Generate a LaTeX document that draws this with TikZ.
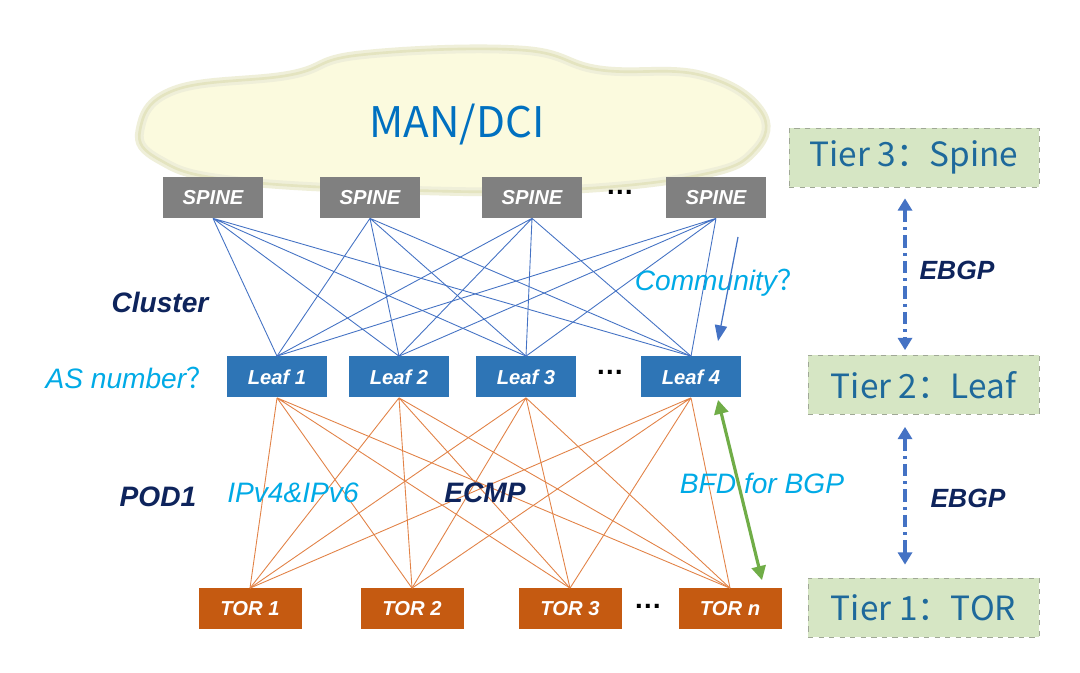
\documentclass[tikz,border=0pt]{standalone}
\usepackage{fontspec}
\setmainfont{Liberation Sans}
\newfontfamily\cjk{Noto Sans CJK SC}
\usepackage{tikz}
\usetikzlibrary{
  arrows.meta,
  positioning,
  calc
}
\usepackage{xcolor}
\definecolor{spinegray}{RGB}{128,128,128}
\definecolor{leafblue}{RGB}{46,117,182}
\definecolor{torbrown}{RGB}{197,90,17}
\definecolor{linkblue}{RGB}{68,114,196}
\definecolor{linkorange}{RGB}{226,130,70}
\definecolor{tiergreen}{RGB}{214,230,196}
\definecolor{tierborder}{RGB}{160,168,150}
\definecolor{tierblue}{RGB}{30,105,155}
\definecolor{notecyan}{RGB}{0,170,230}
\definecolor{navy}{RGB}{14,36,92}
\definecolor{cloudcream}{RGB}{251,250,222}
\definecolor{cloudedge}{RGB}{228,228,192}
\definecolor{bfdgreen}{RGB}{112,173,71}
\definecolor{mandci}{RGB}{0,112,192}

\begin{document}
\begin{tikzpicture}[
  device/.style={fill=#1, minimum width=2cm, minimum height=0.82cm, inner sep=0pt, text=white, font=\fontsize{11.5}{13}\selectfont\bfseries\itshape},
  tier/.style={draw=tierborder, dashed, fill=tiergreen, minimum width=4.62cm, minimum height=1.18cm, text=tierblue, font=\cjk\fontsize{19}{22}\selectfont},
  note/.style={text=notecyan, font=\fontsize{16}{18}\selectfont\itshape},
  tag/.style={text=navy, font=\fontsize{16}{18}\selectfont\bfseries\itshape},
  uplink/.style={draw=linkblue, line width=0.5pt},
  downlink/.style={draw=linkorange, line width=0.5pt},
  tierarrow/.style={{Triangle[width=8pt,length=7pt]}-{Triangle[width=8pt,length=7pt]}, draw=linkblue, line width=2pt, dash pattern=on 7pt off 3pt on 1.5pt off 3pt},
  dots/.style={font=\fontsize{16}{18}\selectfont\bfseries}
]
  \useasboundingbox[fill=white] (0,0) rectangle (21.6,13.46);

  % MAN/DCI cloud
  \draw[fill=cloudcream, draw=cloudedge!60, line width=5pt]
    plot[smooth cycle, tension=0.7] coordinates {
      (2.8,10.86) (3.5,11.66) (5.8,11.96) (7.2,12.36) (10.4,12.46) (12.0,12.06)
      (14.0,11.96) (15.2,11.26) (15.1,10.46) (14.0,9.96) (11.2,9.66) (8.0,9.66)
      (4.6,9.86) (3.2,10.26)};
  \draw[draw=cloudedge, line width=1.5pt]
    plot[smooth cycle, tension=0.7] coordinates {
      (2.8,10.86) (3.5,11.66) (5.8,11.96) (7.2,12.36) (10.4,12.46) (12.0,12.06)
      (14.0,11.96) (15.2,11.26) (15.1,10.46) (14.0,9.96) (11.2,9.66) (8.0,9.66)
      (4.6,9.86) (3.2,10.26)};
  \node[text=mandci, font=\cjk\fontsize{24}{28}\selectfont] (man) at (9.14,10.96) {MAN/DCI};

  % Spines
  \node[device=spinegray] (s1) at (4.26,9.51) {SPINE};
  \node[device=spinegray] (s2) at (7.4,9.51) {SPINE};
  \node[device=spinegray] (s3) at (10.64,9.51) {SPINE};
  \node[device=spinegray] (s4) at (14.32,9.51) {SPINE};
  \node[dots] (sdots) at (12.4,9.62) {\ldots};

  % Leaves
  \node[device=leafblue] (l1) at (5.54,5.92) {Leaf 1};
  \node[device=leafblue] (l2) at (7.98,5.92) {Leaf 2};
  \node[device=leafblue] (l3) at (10.52,5.92) {Leaf 3};
  \node[device=leafblue] (l4) at (13.82,5.92) {Leaf 4};
  \node[dots] (ldots) at (12.2,6.02) {\ldots};

  % TORs
  \node[device=torbrown, minimum width=2.06cm] (t1) at (5.0,1.28) {TOR 1};
  \node[device=torbrown, minimum width=2.06cm] (t2) at (8.24,1.28) {TOR 2};
  \node[device=torbrown, minimum width=2.06cm] (t3) at (11.4,1.28) {TOR 3};
  \node[device=torbrown, minimum width=2.06cm] (t4) at (14.6,1.28) {TOR n};
  \node[dots] (tdots) at (12.96,1.34) {\ldots};

  % Spine-Leaf links
  \draw[uplink] (s1.south) -- (l1.north) (s1.south) -- (l2.north) (s1.south) -- (l3.north) (s1.south) -- (l4.north);
  \draw[uplink] (s2.south) -- (l1.north) (s2.south) -- (l2.north) (s2.south) -- (l3.north) (s2.south) -- (l4.north);
  \draw[uplink] (s3.south) -- (l1.north) (s3.south) -- (l2.north) (s3.south) -- (l3.north) (s3.south) -- (l4.north);
  \draw[uplink] (s4.south) -- (l1.north) (s4.south) -- (l2.north) (s4.south) -- (l3.north) (s4.south) -- (l4.north);

  % Leaf-TOR links
  \draw[downlink] (l1.south) -- (t1.north) (l1.south) -- (t2.north) (l1.south) -- (t3.north) (l1.south) -- (t4.north);
  \draw[downlink] (l2.south) -- (t1.north) (l2.south) -- (t2.north) (l2.south) -- (t3.north) (l2.south) -- (t4.north);
  \draw[downlink] (l3.south) -- (t1.north) (l3.south) -- (t2.north) (l3.south) -- (t3.north) (l3.south) -- (t4.north);
  \draw[downlink] (l4.south) -- (t1.north) (l4.south) -- (t2.north) (l4.south) -- (t3.north) (l4.south) -- (t4.north);

  % Tiers
  \node[tier, minimum width=5cm] (tr3) at (18.28,10.31) {Tier 3：Spine};
  \node[tier] (tr2) at (18.47,5.76) {Tier 2：Leaf};
  \node[tier] (tr1) at (18.47,1.31) {Tier 1：TOR};
  \coordinate (ax) at (18.1,0);
  \draw[tierarrow] ([yshift=-0.22cm]tr3.south -| ax) -- ([yshift=0.1cm]tr2.north -| ax);
  \draw[tierarrow] ([yshift=-0.24cm]tr2.south -| ax) -- ([yshift=0.26cm]tr1.north -| ax);
  \node[tag, font=\fontsize{15}{18}\selectfont\bfseries\itshape] (eb1) at (19.14,8.06) {EBGP};
  \node[tag, font=\fontsize{15}{18}\selectfont\bfseries\itshape] (eb2) at (19.36,3.5) {EBGP};

  % Labels
  \node[tag] (cluster) at (3.2,7.42) {Cluster};
  \node[tag] (pod) at (3.16,3.52) {POD1};
  \node[tag] (ecmp) at (9.7,3.6) {ECMP};
  \node[note] (asn) at (2.6,5.9) {AS number{\cjk\upshape ？}};
  \node[note] (comm) at (14.4,7.8) {Community{\cjk\upshape ？}};
  \node[note] (ip) at (5.86,3.6) {IPv4\&IPv6};
  \node[note] (bfd) at (15.24,3.8) {BFD for BGP};

  % Community arrow
  \coordinate (cstart) at (14.76,8.72);
  \draw[-{Triangle[width=7pt,length=9pt]}, linkblue, line width=0.7pt] (cstart) -- ([shift={(0.54,0.3)}]l4.north);

  % BFD arrow
  \draw[{Triangle[width=8pt,length=8pt]}-{Triangle[width=8pt,length=8pt]}, bfdgreen, line width=1.8pt]
    ([xshift=0.54cm,yshift=-0.04cm]l4.south) -- ([xshift=0.64cm,yshift=0.16cm]t4.north);
\end{tikzpicture}
\end{document}
